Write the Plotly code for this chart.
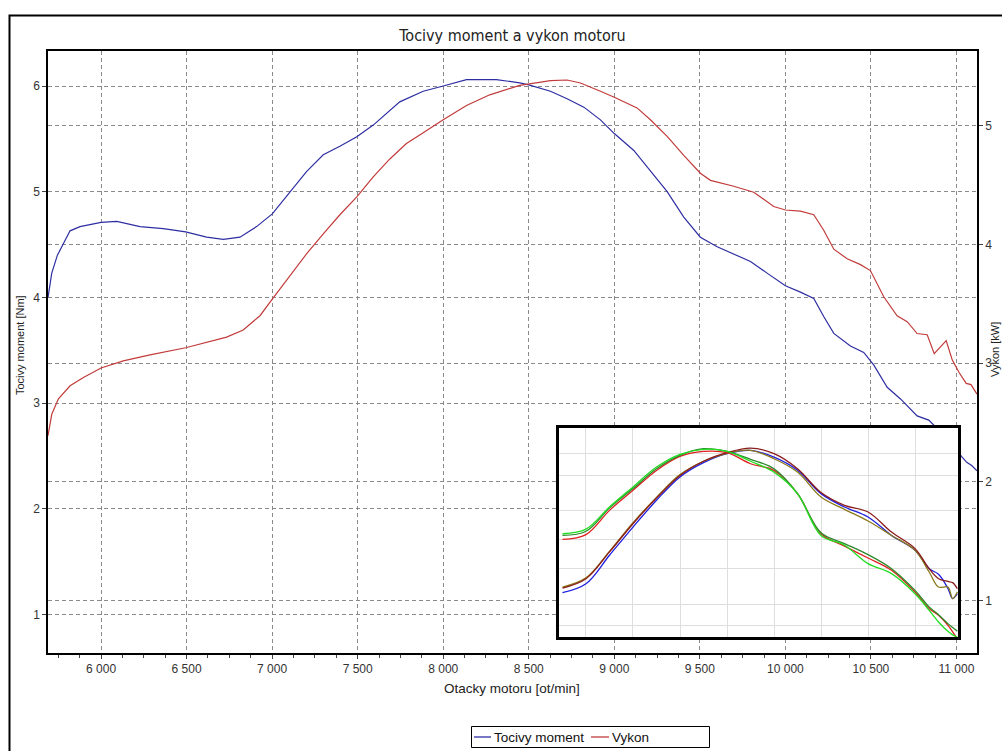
import plotly.graph_objects as go

# ---------------- main chart data ----------------
rpm_torque = [5690, 5712, 5745, 5819, 5877, 6000, 6092, 6228, 6364, 6495, 6617, 6715, 6812, 6909,
              7001, 7104, 7201, 7299, 7396, 7495, 7591, 7746, 7883, 8000, 8136, 8311, 8447, 8500,
              8627, 8724, 8822, 8919, 9000, 9114, 9211, 9309, 9406, 9503, 9601, 9698, 9796, 9893,
              10000, 10088, 10166, 10224, 10283, 10380, 10458, 10517, 10595, 10673, 10770, 10838,
              10950, 11033, 11060, 11089, 11120]
torque_nm = [4.00, 4.23, 4.40, 4.63, 4.67, 4.71, 4.72, 4.67, 4.65, 4.62, 4.57, 4.55, 4.57, 4.67,
             4.79, 5.00, 5.19, 5.35, 5.43, 5.52, 5.63, 5.85, 5.95, 6.00, 6.06, 6.06, 6.03, 6.01,
             5.95, 5.88, 5.80, 5.68, 5.55, 5.39, 5.20, 5.00, 4.76, 4.57, 4.48, 4.41, 4.34, 4.23,
             4.11, 4.05, 3.99, 3.82, 3.66, 3.54, 3.48, 3.36, 3.15, 3.04, 2.88, 2.84,
             2.66, 2.49, 2.44, 2.41, 2.36]

rpm_power = [5690, 5712, 5751, 5819, 5897, 6000, 6130, 6286, 6495, 6656, 6734, 6831, 6929, 7001,
             7104, 7201, 7299, 7396, 7495, 7591, 7688, 7785, 7883, 8000, 8136, 8272, 8447, 8500,
             8627, 8724, 8802, 8919, 9000, 9133, 9211, 9309, 9406, 9503, 9562, 9698, 9815, 9932,
             10000, 10088, 10166, 10224, 10283, 10361, 10439, 10497, 10575, 10653, 10712, 10770,
             10829, 10870, 10940, 10975, 11016, 11057, 11085, 11120]
power_kw = [2.39, 2.57, 2.70, 2.81, 2.88, 2.96, 3.02, 3.07, 3.13, 3.19, 3.22, 3.28, 3.40, 3.54,
            3.74, 3.92, 4.09, 4.25, 4.40, 4.57, 4.72, 4.85, 4.94, 5.05, 5.17, 5.26, 5.34, 5.35,
            5.38, 5.385, 5.36, 5.29, 5.24, 5.15, 5.05, 4.91, 4.75, 4.60, 4.54, 4.49, 4.44, 4.32,
            4.29, 4.28, 4.25, 4.12, 3.96, 3.88, 3.83, 3.78, 3.56, 3.40, 3.35, 3.25,
            3.24, 3.08, 3.19, 3.03, 2.92, 2.83, 2.82, 2.74]

series_names = ["Tocivy moment", "Vykon"]
x_ticks = [6000, 6500, 7000, 7500, 8000, 8500, 9000, 9500, 10000, 10500, 11000]
torque_ticks = [1, 2, 3, 4, 5, 6]
power_ticks = [1, 2, 3, 4, 5]

# ---------------- inset (comparison picture) data, % of inset height ----------------
inset_rpm = [6750, 7000, 7250, 7500, 7750, 8000, 8250, 8500, 8750, 9000, 9250, 9500, 9750,
             10000, 10250, 10500, 10650, 10750, 10850, 10900, 10950]
inset_tq_lime = [49.4, 51.6, 62.2, 71.8, 81.3, 87.4, 89.8, 88.8, 84.1, 78.9, 68.6, 48.6, 43.9,
                 35.1, 30.3, 20.7, 12.8, 7.2, 2.7, 1.0, 0.0]
inset_tq_red = [46.7, 49.0, 60.6, 70.2, 79.7, 86.4, 88.8, 88.2, 82.9, 79.7, 68.6, 49.4, 43.5,
                37.8, 31.9, 21.5, 13.6, 10.4, 5.6, 2.5, -0.8]
inset_tq_green = [48.6, 50.6, 61.7, 71.0, 80.5, 86.9, 90.1, 88.8, 85.0, 80.5, 68.6, 49.9, 44.7,
                  39.4, 32.7, 22.3, 14.4, 10.7, 6.4, 4.5, 2.7]
inset_pw_blue = [21.2, 25.5, 39.1, 52.6, 65.4, 76.6, 83.4, 87.7, 89.3, 86.1, 79.8, 68.6, 62.2,
                 57.4, 48.6, 41.5, 32.7, 30.0, 23.2, 18.4, 20.7]
inset_pw_darkred = [23.4, 27.9, 40.7, 54.2, 66.5, 77.3, 84.1, 88.2, 90.4, 87.7, 80.5, 69.1, 63.0,
                    59.8, 50.2, 42.3, 32.7, 27.9, 26.6, 26.0, 23.1]
inset_pw_olive = [23.9, 28.3, 41.0, 54.7, 66.8, 77.7, 84.1, 87.9, 89.3, 85.3, 78.9, 67.0, 61.1,
                  55.5, 48.6, 41.5, 31.1, 23.9, 23.9, 18.4, 21.5]
inset_grid_x = [7000, 7500, 8000, 8500, 9000, 9500, 10000, 10500]
inset_grid_y = [5.6, 15.5, 32.7, 46.7, 60.3, 77.4, 87.7]

# ---------------- geometry helpers (pixel -> paper) ----------------
W, H = 1002, 751
PL, PR, PT, PB = 48, 977, 51, 653


def px(x):
    return (x - PL) / (PR - PL)


def py(y):
    return (PB - y) / (PB - PT)


FONT = "Liberation Sans, Arial, sans-serif"
GRID = "#8a8a8a"
DASH = "4px,3px"
BLUE = "#2e2ea3"
RED = "#c23b3b"

fig = go.Figure()
fig.add_trace(go.Scatter(x=rpm_torque, y=torque_nm, name=series_names[0], mode="lines",
                         line=dict(color=BLUE, width=1.2), xaxis="x", yaxis="y"))
fig.add_trace(go.Scatter(x=rpm_power, y=power_kw, name=series_names[1], mode="lines",
                         line=dict(color=RED, width=1.2), xaxis="x", yaxis="y2"))

inset_series = [
    (inset_pw_blue, "#1f1fe0"), (inset_pw_olive, "#8a7a1a"), (inset_pw_darkred, "#8b1c1c"),
    (inset_tq_red, "#e02020"), (inset_tq_green, "#2a8a2a"), (inset_tq_lime, "#22dd22"),
]
for vals, col in inset_series:
    fig.add_trace(go.Scatter(x=inset_rpm, y=vals, mode="lines", showlegend=False,
                             line=dict(color=col, width=1.3, shape="spline", smoothing=1.0),
                             xaxis="x2", yaxis="y3", hoverinfo="skip"))

axis_common = dict(showline=True, linecolor="black", linewidth=1.5, zeroline=False,
                   ticks="outside", ticklen=4, tickcolor="#444",
                   tickfont=dict(family=FONT, size=12, color="#333"),
                   showgrid=True, gridcolor=GRID, gridwidth=1, griddash=DASH)

# legend box drawn as a compact framed key (box 471..710 x 727..747 px)
LEG_Y = 737
legend_shapes = [
    dict(type="rect", xref="paper", yref="paper", x0=px(471.5), x1=px(709.5),
         y0=py(747.5), y1=py(726.5), line=dict(color="black", width=1), fillcolor="white",
         layer="above"),
    dict(type="line", xref="paper", yref="paper", x0=px(474), x1=px(491), y0=py(LEG_Y),
         y1=py(LEG_Y), line=dict(color=BLUE, width=1.3), layer="above"),
    dict(type="line", xref="paper", yref="paper", x0=px(591), x1=px(609), y0=py(LEG_Y),
         y1=py(LEG_Y), line=dict(color=RED, width=1.3), layer="above"),
]
legend_texts = [
    dict(text=series_names[0], xref="paper", yref="paper", x=px(492), y=py(LEG_Y + 0.5),
         xanchor="left", yanchor="middle", showarrow=False,
         font=dict(family=FONT, size=13.5, color="#111")),
    dict(text=series_names[1], xref="paper", yref="paper", x=px(610), y=py(LEG_Y + 0.5),
         xanchor="left", yanchor="middle", showarrow=False,
         font=dict(family=FONT, size=13.5, color="#111")),
]

fig.update_layout(
    width=W, height=H, autosize=False,
    margin=dict(l=PL, r=W - PR, t=PT, b=H - PB, pad=0, autoexpand=False),
    paper_bgcolor="white", plot_bgcolor="white",
    separators=". ",
    font=dict(family=FONT, size=12, color="#222"),
    title=dict(text="Tocivy moment a vykon motoru", x=px(512.5), xref="paper", xanchor="center",
               y=1 - 35 / H, yref="container", yanchor="middle",
               font=dict(family="Liberation Sans Narrow, DejaVu Sans Condensed, Arial", size=16,
                         color="#222")),
    xaxis=dict(range=[5690, 11120], tickvals=x_ticks, tickformat=",d", separatethousands=True,
               mirror=True,
               minor=dict(ticks="outside", ticklen=3, dtick=125, tick0=6000, tickcolor="#444",
                          showgrid=False),
               **axis_common),
    yaxis=dict(range=[0.637, 6.331], tickvals=torque_ticks, **axis_common),
    yaxis2=dict(range=[0.560, 5.629], tickvals=power_ticks, overlaying="y", side="right",
                **axis_common),
    xaxis2=dict(domain=[px(559), px(958)], anchor="y3", range=[6713, 10957],
                tickvals=inset_grid_x, showticklabels=False, ticks="", showline=False,
                zeroline=False, showgrid=True, gridcolor="#dedede", gridwidth=1),
    yaxis3=dict(domain=[py(637), py(428)], anchor="x2", range=[0, 100],
                tickvals=inset_grid_y, showticklabels=False, ticks="", showline=False,
                zeroline=False, showgrid=True, gridcolor="#dedede", gridwidth=1),
    showlegend=False,
    annotations=[
        dict(text="Otacky motoru [ot/min]", xref="paper", yref="paper", x=px(512), y=py(688),
             xanchor="center", yanchor="middle", showarrow=False,
             font=dict(family=FONT, size=13.5, color="#222")),
        dict(text="Tocivy moment [Nm]", xref="paper", yref="paper", x=px(20), y=py(345),
             xanchor="center", yanchor="middle", showarrow=False, textangle=-90,
             font=dict(family=FONT, size=11, color="#222")),
        dict(text="Vykon [kW]", xref="paper", yref="paper", x=px(995), y=py(350),
             xanchor="center", yanchor="middle", showarrow=False, textangle=-90,
             font=dict(family=FONT, size=11, color="#222")),
    ] + legend_texts,
    shapes=[
        # white backing of the inset picture (drawn in the inset subplot, below its grid)
        dict(type="rect", xref="x2", yref="y3", x0=6713, x1=10957, y0=0, y1=100,
             fillcolor="white", line=dict(width=0), layer="below"),
        # inset frame
        dict(type="rect", xref="paper", yref="paper", x0=px(557.5), x1=px(959.5),
             y0=py(638.5), y1=py(426.5), line=dict(color="black", width=3), layer="above"),
        # outer frame of the picture
        dict(type="rect", xref="paper", yref="paper", x0=px(9.5), x1=px(1030),
             y0=py(780), y1=py(15.5), line=dict(color="black", width=2), layer="above"),
    ] + legend_shapes,
)

fig.write_html("out.html", config={"displayModeBar": False},
               post_script="document.body.style.margin='0';document.body.style.overflow='hidden';")
